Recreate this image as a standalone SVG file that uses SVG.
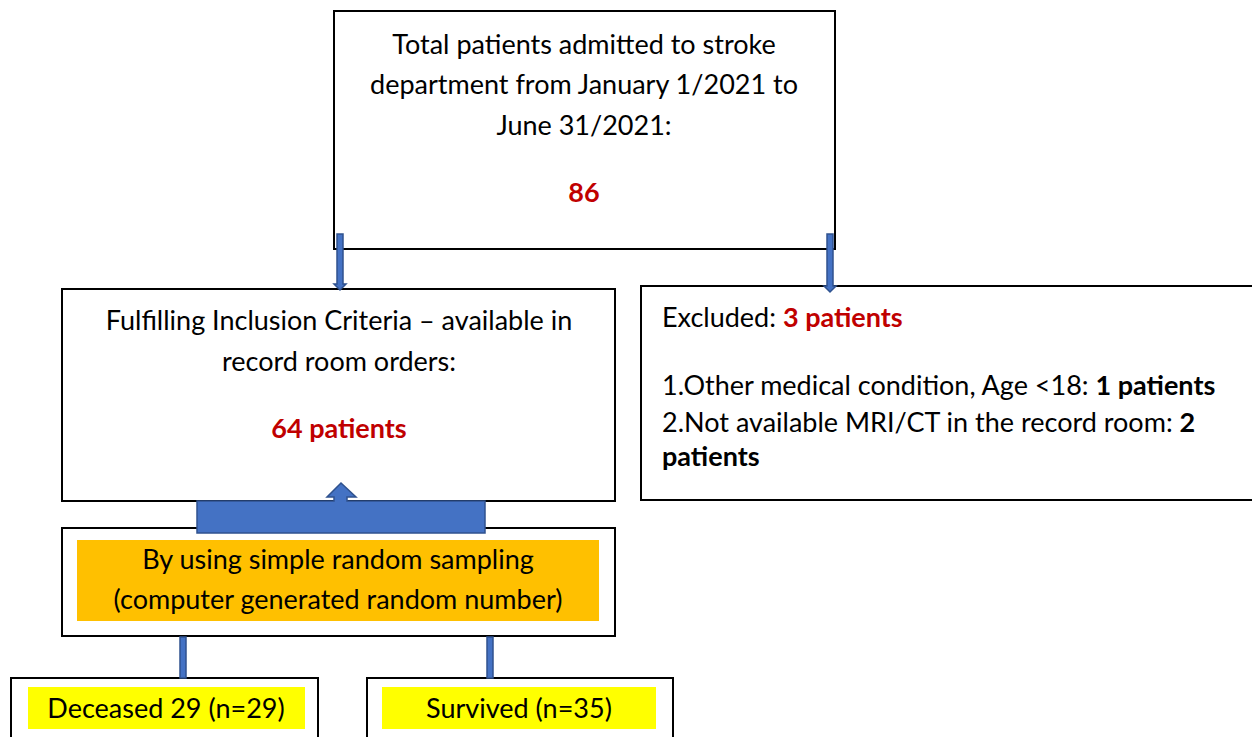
<svg xmlns="http://www.w3.org/2000/svg" width="1252" height="737" viewBox="0 0 1252 737">
<style>
.box{fill:#fff;stroke:#000;stroke-width:2}
.t{font-family:Lato,"Liberation Sans",sans-serif;font-size:27px;fill:#000}
.c{text-anchor:middle}
.b{font-weight:bold}
.red{fill:#C00000;font-weight:bold}
.blue{fill:#4472C4;stroke:#2F528F;stroke-width:1.5}
</style>
<rect width="1252" height="737" fill="#fff"/>
<g id="total">
<rect class="box" x="334" y="11" width="501" height="238"/>
<text class="t c" x="584" y="54">Total patients admitted to stroke</text>
<text class="t c" x="584" y="94">department from January 1/2021 to</text>
<text class="t c" x="584" y="135">June 31/2021:</text>
<text class="t c red" x="584" y="202">86</text>
</g>
<g id="included">
<rect class="box" x="62" y="289" width="553" height="212"/>
<text class="t c" x="339" y="330">Fulfilling Inclusion Criteria – available in</text>
<text class="t c" x="339" y="371">record room orders:</text>
<text class="t c red" x="339" y="438">64 patients</text>
</g>
<g id="excluded">
<rect class="box" x="641" y="286" width="620" height="214"/>
<text class="t" x="662" y="327">Excluded: <tspan class="red">3 patients</tspan></text>
<text class="t" x="662" y="395">1.Other medical condition, Age &lt;18: <tspan class="b">1 patients</tspan></text>
<text class="t" x="662" y="432">2.Not available MRI/CT in the record room: <tspan class="b">2</tspan></text>
<text class="t b" x="662" y="466">patients</text>
</g>
<g id="sampling">
<rect class="box" x="62" y="528" width="553" height="108"/>
<rect x="77" y="540" width="522" height="81" fill="#FFC000"/>
<text class="t c" x="338" y="569">By using simple random sampling</text>
<text class="t c" x="338" y="609">(computer generated random number)</text>
</g>
<g id="deceased">
<rect class="box" x="11" y="678" width="307" height="70"/>
<rect x="28" y="687" width="277" height="42" fill="#FFFF00"/>
<text class="t c" x="166" y="718">Deceased 29 (n=29)</text>
</g>
<g id="survived">
<rect class="box" x="367" y="678" width="306" height="70"/>
<rect x="382" y="687" width="274" height="42" fill="#FFFF00"/>
<text class="t c" x="519" y="718">Survived (n=35)</text>
</g>
<g id="connectors">
<path class="blue" d="M337 234 H343 V284 H346 L340 290 L334 284 H337 Z"/>
<path class="blue" d="M827 234 H833 V286 H836 L830 292 L824 286 H827 Z"/>
<path class="blue" d="M197 501 H334 V497 H327 L341 483 L356 497 H347 V501 H485 V533 H197 Z"/>
<rect class="blue" x="180" y="637" width="6" height="41"/>
<rect class="blue" x="487" y="637" width="6" height="41"/>
</g>
</svg>
